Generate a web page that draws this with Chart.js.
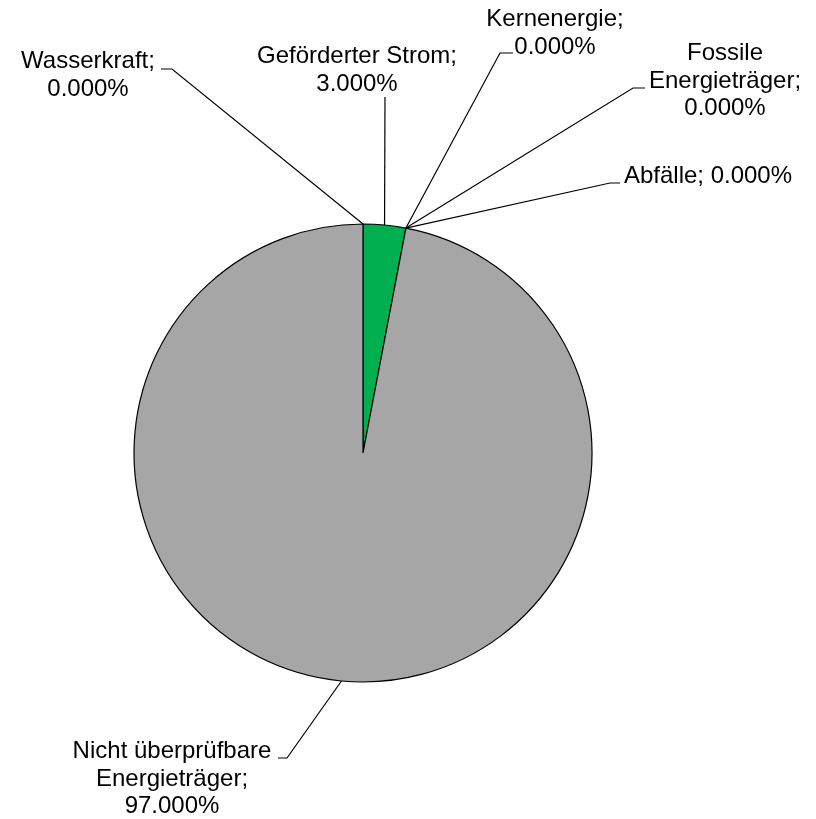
<!DOCTYPE html>
<html lang="de">
<head>
    <meta charset="UTF-8">
    <title>Stromkennzeichnung</title>
    <script src="https://cdn.jsdelivr.net/npm/chart.js"></script>
    <style>
        body { margin: 0; background: #fff; }
    </style>
</head>
<body>
    <canvas id="mixChart" width="816" height="819"></canvas>

    <script>
        // Daten
        const kategorien = ['Wasserkraft', 'Geförderter Strom', 'Kernenergie', 'Fossile Energieträger', 'Abfälle', 'Nicht überprüfbare Energieträger'];
        const anteile = [0, 3, 0, 0, 0, 97];
        const farben = ['#4472C4', '#00B050', '#FFC000', '#7F7F7F', '#C55A11', '#A6A6A6'];

        // Lage der Beschriftungen (Textmitte, erste Grundlinie, Umbruchbreite, Knick, Ende der Linie)
        const beschriftung = [
            { x: 88, y: 68, breite: 160, knick: [172, 69], ende: [161, 69] },
            { x: 357, y: 63, breite: 205, knick: [385, 97], ende: null },
            { x: 555, y: 26, breite: 160, knick: [500, 53], ende: [513, 53] },
            { x: 725, y: 60, breite: 160, knick: [633, 88], ende: [645, 88] },
            { x: 708, y: 183, breite: 400, knick: [610, 183], ende: [620, 183] },
            { x: 172, y: 758, breite: 205, knick: [287, 758], ende: [278, 758] }
        ];

        const zeilenAbstand = 27.6;

        function umbrechen(ctx, text, breite) {
            const woerter = text.split(' ');
            const zeilen = [];
            let zeile = '';
            for (const w of woerter) {
                const test = zeile ? zeile + ' ' + w : w;
                if (zeile && ctx.measureText(test).width > breite) {
                    zeilen.push(zeile);
                    zeile = w;
                } else {
                    zeile = test;
                }
            }
            zeilen.push(zeile);
            return zeilen;
        }

        const leaderLabels = {
            id: 'leaderLabels',
            afterDatasetsDraw(chart) {
                const ctx = chart.ctx;
                const meta = chart.getDatasetMeta(0);
                const summe = anteile.reduce((a, b) => a + b, 0);
                ctx.save();
                ctx.font = '24px Arial, "Liberation Sans", sans-serif';
                ctx.fillStyle = '#000';
                ctx.strokeStyle = '#000';
                ctx.lineWidth = 1.2;
                ctx.textAlign = 'center';
                ctx.textBaseline = 'alphabetic';

                meta.data.forEach(function (arc, i) {
                    const p = arc.getProps(['x', 'y', 'startAngle', 'endAngle', 'outerRadius'], true);
                    const mitte = (p.startAngle + p.endAngle) / 2;
                    const ax = p.x + Math.cos(mitte) * p.outerRadius;
                    const ay = p.y + Math.sin(mitte) * p.outerRadius;
                    const b = beschriftung[i];

                    ctx.beginPath();
                    ctx.moveTo(ax, ay);
                    ctx.lineTo(b.knick[0], b.knick[1]);
                    if (b.ende) ctx.lineTo(b.ende[0], b.ende[1]);
                    ctx.stroke();

                    const prozent = (anteile[i] / summe * 100).toFixed(3) + '%';
                    const zeilen = umbrechen(ctx, kategorien[i] + '; ' + prozent, b.breite);
                    zeilen.forEach(function (z, k) {
                        ctx.fillText(z, b.x, b.y + k * zeilenAbstand);
                    });
                });
                ctx.restore();
            }
        };

        const ctx = document.getElementById('mixChart').getContext('2d');
        const mixChart = new Chart(ctx, {
            type: 'pie',
            data: {
                labels: kategorien,
                datasets: [{
                    data: anteile,
                    backgroundColor: farben,
                    borderColor: '#000',
                    borderWidth: 1.2,
                    radius: 229
                }]
            },
            options: {
                responsive: false,
                animation: false,
                devicePixelRatio: 1,
                layout: {
                    padding: { left: 134, right: 224, top: 224, bottom: 137 }
                },
                plugins: {
                    legend: { display: false },
                    tooltip: { enabled: false }
                }
            },
            plugins: [leaderLabels]
        });
    </script>
</body>
</html>
